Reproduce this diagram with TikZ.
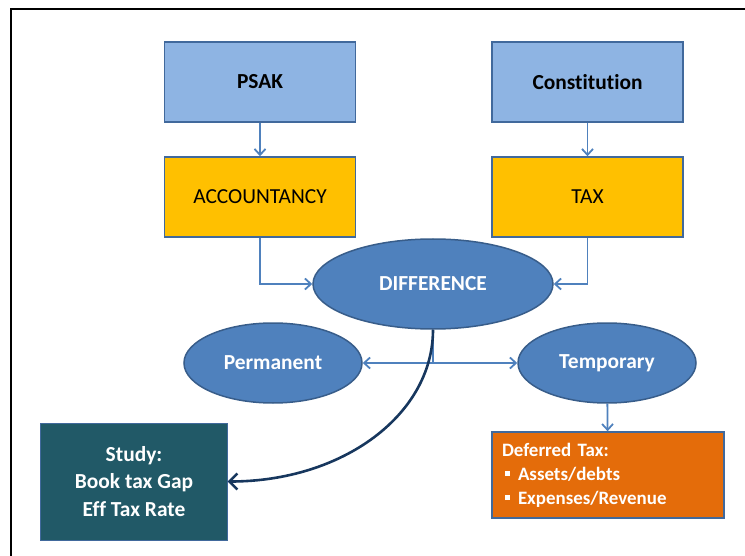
\documentclass[tikz,border=0pt]{standalone}
\usepackage{fontspec}
\setmainfont{Carlito}[Ligatures={NoCommon}]
\usetikzlibrary{arrows.meta,shapes.geometric}
\definecolor{srcblue}{HTML}{8EB4E3}
\definecolor{boxedge}{HTML}{41699C}
\definecolor{gold}{HTML}{FFC000}
\definecolor{ovalfill}{HTML}{4F81BD}
\definecolor{ovaledge}{HTML}{385D8A}
\definecolor{linkblue}{HTML}{4F81BD}
\definecolor{navy}{HTML}{17375E}
\definecolor{teal}{HTML}{215967}
\definecolor{orange}{HTML}{E46C0A}
\begin{document}
\begin{tikzpicture}[x=1bp,y=-1bp,
  box/.style={draw=boxedge, line width=1.5bp, minimum width=191bp, minimum height=80bp,
    inner sep=0pt, font=\fontsize{21.5}{26}\selectfont},
  oval/.style={ellipse, draw=ovaledge, line width=1.5bp, fill=ovalfill, text=white,
    inner sep=0pt, font=\fontsize{21.5}{26}\selectfont\bfseries},
  link/.style={draw=linkblue, line width=1.8bp, -{Straight Barb[length=6bp,width=11bp]}},
  curvelink/.style={draw=navy, line width=2.6bp, -{Straight Barb[length=8bp,width=16bp]}}]
\useasboundingbox (0,0) rectangle (745,556);

% frame
\draw[line width=2.2bp] (11,557) -- (11,9) -- (746,9);

% sources and branches
\node[box, fill=srcblue, font=\fontsize{21.5}{26}\selectfont\bfseries] (psak) at (260,82) {PSAK};
\node[box, fill=gold] (acc) at (260,197) {ACCOUNTANCY};
\node[box, fill=srcblue, font=\fontsize{21.5}{26}\selectfont\bfseries] (const) at (587.5,82) {Constitution};
\node[box, fill=gold] (tax) at (587.5,197) {TAX};

% ellipses
\node[oval, minimum width=240bp, minimum height=90bp] (diff) at (433,284) {DIFFERENCE};
\node[oval, minimum width=178bp, minimum height=80bp] (perm) at (273,363) {Permanent};
\node[oval, minimum width=178bp, minimum height=80bp] (temp) at (607,363) {Temporary};

% result boxes
\node[draw=boxedge, line width=1bp, fill=teal, text=white, minimum width=186bp, minimum height=117bp,
  inner sep=0pt, align=center, font=\fontsize{21.5}{27.7}\selectfont\bfseries]
  (study) at (134,481.5) {Study:\\Book tax Gap\\Eff Tax Rate};
\node[draw=boxedge, line width=1.5bp, fill=orange, text=white, minimum width=232bp, minimum height=86bp,
  inner xsep=10bp, inner ysep=0pt, text width=212bp, align=left, font=\fontsize{19}{24}\selectfont\bfseries]
  (defer) at (608,475) {Deferred Tax:\\
  \hspace*{3bp}\rule[4bp]{5bp}{5bp}\hspace*{8bp}Assets/debts\\
  \hspace*{3bp}\rule[4bp]{5bp}{5bp}\hspace*{8bp}Expenses/Revenue};

% connectors
\draw[link] (psak) -- (acc);
\draw[link] (const) -- (tax);
\draw[link] (acc.south) |- (diff.west);
\draw[link] (tax.south) |- (diff.east);
\draw[link] (diff.south) |- (perm.east);
\draw[link] (diff.south) |- (temp.west);
\draw[link] (temp) -- (defer);
\draw[curvelink] (diff.south) .. controls +(0,85) and +(115,0) .. (study.east);
\end{tikzpicture}
\end{document}
